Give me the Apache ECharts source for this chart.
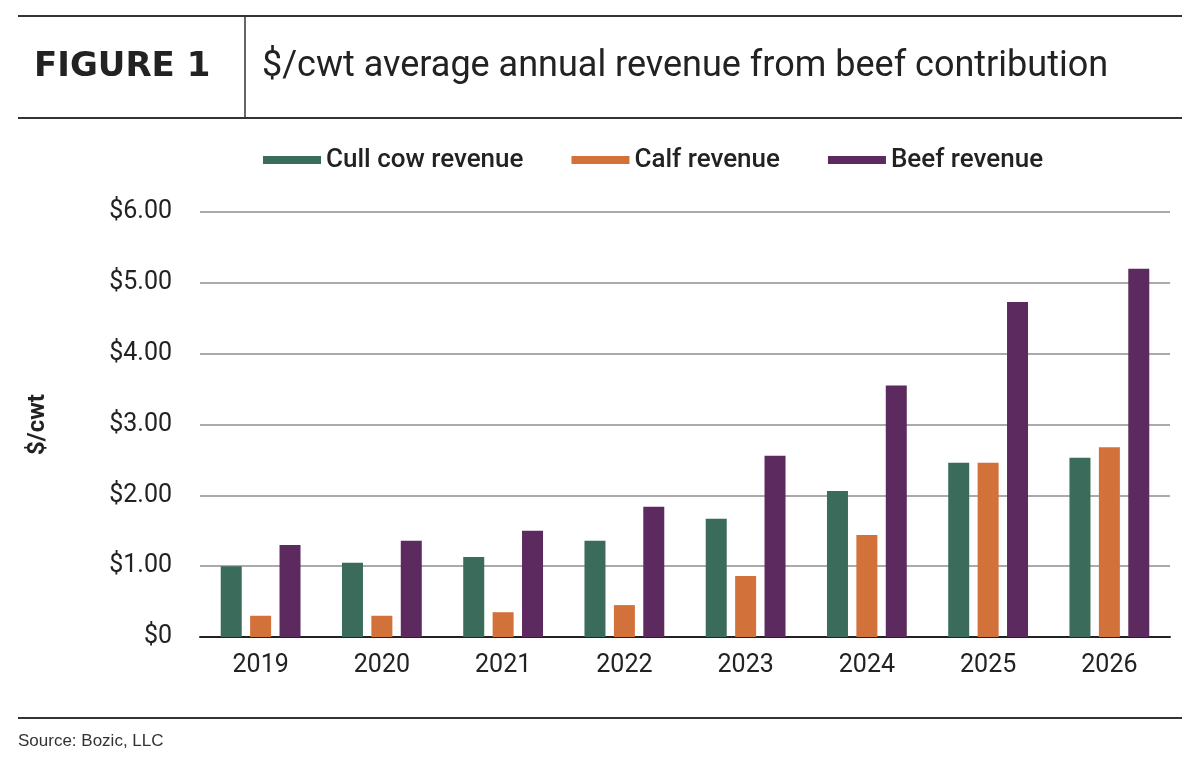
<!DOCTYPE html>
<html><head><meta charset="utf-8">
<script src="https://cdn.jsdelivr.net/npm/echarts@6/dist/echarts.min.js"></script>
<style>html,body{margin:0;padding:0;background:#fff}#c{width:1200px;height:761px}</style>
</head><body><div id="c"></div>
<script>
const categories = ['2019','2020','2021','2022','2023','2024','2025','2026'];
const cullCow = [1.00,1.05,1.13,1.36,1.67,2.06,2.46,2.53];
const calf = [0.30,0.30,0.35,0.45,0.86,1.44,2.46,2.68];
const beef = [1.30,1.36,1.50,1.84,2.56,3.55,4.73,5.20];
const yTicks = ['$0','$1.00','$2.00','$3.00','$4.00','$5.00','$6.00'];

const chart = echarts.init(document.getElementById('c'));
const font = 'Roboto, "Liberation Sans", sans-serif';
const mk = (name, data, color) => ({name, type:'bar', data, barWidth:21, barGap:'40%', itemStyle:{color}});
chart.setOption({
  animation:false,
  graphic:[
    {type:'line', shape:{x1:18,y1:16,x2:1182,y2:16}, style:{stroke:'#333',lineWidth:2}},
    {type:'line', shape:{x1:18,y1:118,x2:1182,y2:118}, style:{stroke:'#333',lineWidth:2}},
    {type:'line', shape:{x1:245,y1:16,x2:245,y2:118}, style:{stroke:'#333',lineWidth:1.5}},
    {type:'text', left:34, top:50, style:{text:'FIGURE 1', font:'bold 34px "DejaVu Sans", sans-serif', fill:'#222'}},
    {type:'text', left:262, top:49, style:{text:'$/cwt average annual revenue from beef contribution', font:'36px '+font, fill:'#222'}},
    {type:'line', shape:{x1:18,y1:718,x2:1182,y2:718}, style:{stroke:'#333',lineWidth:2}},
    {type:'text', left:18, top:733, style:{text:'Source: Bozic, LLC', font:'17px "Liberation Sans", sans-serif', fill:'#333'}}
  ],
  legend:{top:142, left:258, itemWidth:58, itemHeight:8, itemGap:48, icon:'rect',
    textStyle:{fontSize:26, fontFamily:font, color:'#222', fontWeight:500}},
  grid:{left:200, right:30, top:212, bottom:124},
  xAxis:{type:'category', data:categories, axisTick:{show:false},
    axisLine:{lineStyle:{color:'#222',width:2}},
    axisLabel:{fontSize:25, fontFamily:font, color:'#222', margin:16}},
  yAxis:{type:'value', min:0, max:6, interval:1,
    name:'$/cwt', nameLocation:'middle', nameGap:150, nameRotate:90,
    nameTextStyle:{fontSize:24, fontWeight:'bold', fontFamily:font, color:'#222'},
    axisLabel:{fontSize:25, fontFamily:font, color:'#222', margin:28, formatter:v=>yTicks[Math.round(v)]},
    splitLine:{lineStyle:{color:'#aaa',width:2}}},
  series:[mk('Cull cow revenue', cullCow, '#3b6b5b'), mk('Calf revenue', calf, '#d3713a'), mk('Beef revenue', beef, '#5d2a5f')]
});
</script></body></html>
